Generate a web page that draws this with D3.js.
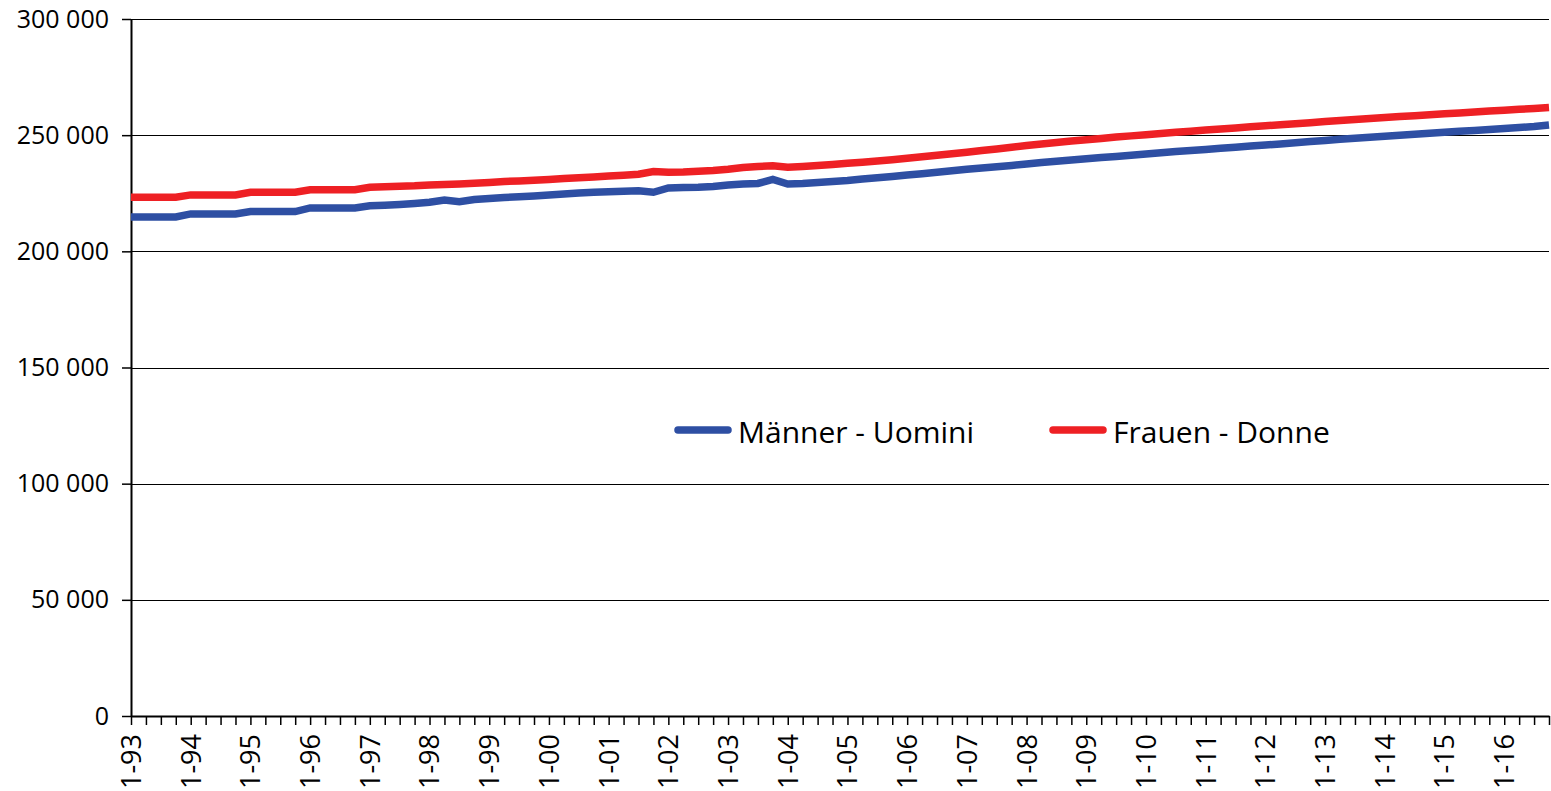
<!DOCTYPE html>
<html>
<head>
<meta charset="utf-8">
<script src="https://cdn.jsdelivr.net/npm/d3@7"></script>
<style>
  body { margin: 0; background: #fff; }
  svg { display: block; }
  text { font-family: "Open Sans", "Noto Sans", sans-serif; fill: #000; }
</style>
</head>
<body>
<svg id="chart"></svg>
<script>
// years and quarters for the category axis
var years = ["93","94","95","96","97","98","99","00","01","02","03","04",
             "05","06","07","08","09","10","11","12","13","14","15","16"];
var quarters = ["1","2","3","4"];

// resident population by quarter
var men = [
  214800, 214800, 214800, 214800, 216100, 216100, 216100, 216100,
  217100, 217100, 217100, 217100, 218700, 218700, 218700, 218700,
  219640, 219860, 220160, 220590, 221100, 222100, 221400, 222300,
  222750, 223170, 223470, 223820, 224250, 224680, 225110, 225410,
  225670, 225880, 226100, 225410, 227260, 227480, 227610, 227910,
  228550, 228980, 229200, 230920, 228980, 229200, 229630, 230060,
  230490, 231130, 231650, 232210, 232860, 233410, 234010, 234660,
  235300, 235870, 236420, 236990, 237590, 238190, 238750, 239310,
  239830, 240350, 240860, 241370, 241890, 242410, 242930, 243400,
  243870, 244350, 244820, 245340, 245770, 246200, 246720, 247230,
  247750, 248220, 248650, 249080, 249560, 249990, 250420, 250800,
  251240, 251670, 252010, 252440, 252870, 253300, 253730, 254370
];
var women = [
  223300, 223300, 223300, 223300, 224300, 224300, 224300, 224300,
  225400, 225400, 225400, 225400, 226500, 226500, 226500, 226500,
  227560, 227780, 228000, 228200, 228550, 228770, 228980, 229280,
  229630, 230060, 230270, 230620, 230920, 231350, 231690, 232000,
  232430, 232770, 233200, 234360, 234020, 234150, 234450, 234800,
  235360, 236090, 236520, 236810, 236170, 236520, 236950, 237380,
  237890, 238360, 238880, 239440, 240040, 240690, 241330, 241980,
  242670, 243360, 244050, 244780, 245510, 246200, 246850, 247490,
  248050, 248610, 249170, 249690, 250200, 250720, 251240, 251710,
  252180, 252660, 253130, 253600, 254030, 254460, 254900, 255370,
  255840, 256270, 256700, 257130, 257560, 257990, 258380, 258770,
  259200, 259580, 259970, 260360, 260750, 261130, 261480, 261910
];
var yTicks = [0, 50000, 100000, 150000, 200000, 250000, 300000];
var seriesNames = ["Männer - Uomini", "Frauen - Donne"];
var seriesColors = ["#2E4FA3", "#EE2024"];

var categories = [];
years.forEach(function(yr) {
    quarters.forEach(function(q) { categories.push(q + "-" + yr); });
});

var WIDTH = 1551;
var HEIGHT = 791;
var plotLeft = 131, plotRight = 1549, plotTop = 19, plotBottom = 716;

var svg = d3.select("#chart")
    .attr("width", WIDTH)
    .attr("height", HEIGHT);

var x = d3.scalePoint()
    .domain(categories)
    .range([plotLeft, plotRight])
    .padding(0);

var y = d3.scaleLinear()
    .domain([0, 300000])
    .range([plotBottom, plotTop]);

var fmt = function(d) {
    return d3.format(",")(d).replace(/,/g, " ");
};

// gridlines
svg.append("g")
    .selectAll("line")
    .data(yTicks.slice(1))
    .enter().append("line")
    .attr("x1", plotLeft)
    .attr("x2", plotRight)
    .attr("y1", d => Math.round(y(d)) + 0.5)
    .attr("y2", d => Math.round(y(d)) + 0.5)
    .attr("stroke", "#000")
    .attr("stroke-width", 1);

// y axis
var yAxis = svg.append("g")
    .attr("transform", "translate(" + plotLeft + ",0)")
    .call(d3.axisLeft(y).tickValues(yTicks).tickFormat(fmt)
        .tickSize(9).tickSizeOuter(0).tickPadding(13));
yAxis.select(".domain").attr("stroke", "#000").attr("stroke-width", 2);
yAxis.selectAll(".tick line").attr("stroke", "#000").attr("stroke-width", 1.5);
yAxis.selectAll("text")
    .attr("font-size", 25)
    .style("font-family", "'Open Sans', sans-serif");

// x axis
var xAxis = svg.append("g")
    .attr("transform", "translate(0," + plotBottom + ")")
    .call(d3.axisBottom(x).tickSize(9).tickSizeOuter(0)
        .tickFormat(d => d.charAt(0) === "1" ? d : ""));
xAxis.select(".domain").attr("stroke", "#000").attr("stroke-width", 2);
xAxis.selectAll(".tick line").attr("stroke", "#000").attr("stroke-width", 1.5);
xAxis.selectAll("text")
    .attr("font-size", 27)
    .style("font-family", "'Open Sans', sans-serif")
    .attr("text-anchor", "end")
    .attr("transform", "rotate(-90)")
    .attr("x", -18)
    .attr("y", 0)
    .attr("dy", "0.35em");

// lines
var line = d3.line()
    .x((d, i) => x(categories[i]))
    .y(d => y(d));

[men, women].forEach(function(series, k) {
    svg.append("path")
        .datum(series)
        .attr("fill", "none")
        .attr("stroke", seriesColors[k])
        .attr("stroke-width", 7.5)
        .attr("d", line);
});

// legend
var legendX = [675, 1050];
var legend = svg.append("g");
seriesNames.forEach(function(name, k) {
    legend.append("line")
        .attr("x1", legendX[k] + 3)
        .attr("x2", legendX[k] + 53)
        .attr("y1", 430)
        .attr("y2", 430)
        .attr("stroke", seriesColors[k])
        .attr("stroke-width", 7.5)
        .attr("stroke-linecap", "round");
    legend.append("text")
        .attr("x", legendX[k] + 63)
        .attr("y", 443)
        .attr("font-size", 30)
        .text(name);
});
</script>
</body>
</html>
